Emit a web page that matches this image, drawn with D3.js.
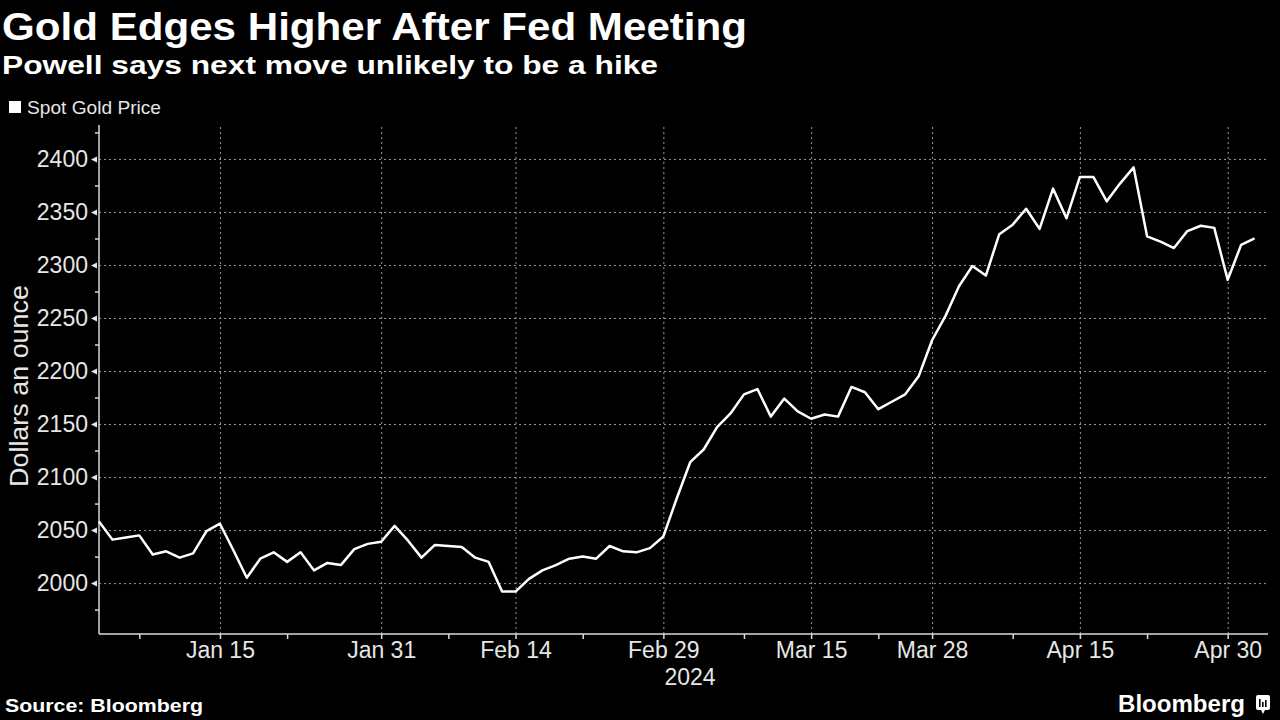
<!DOCTYPE html>
<html>
<head>
<meta charset="utf-8">
<script src="https://cdn.jsdelivr.net/npm/d3@7"></script>
<style>
	body { margin: 0; background: #000; }
	svg { display: block; }
	text { font-family: "Liberation Sans", Arial, sans-serif; }
</style>
</head>
<body>
<div id="container"></div>
<script>
// trading days shown on the chart (Good Friday is missing)
var dates = [
	'2024-01-02','2024-01-03','2024-01-04','2024-01-05','2024-01-08','2024-01-09','2024-01-10','2024-01-11','2024-01-12',
	'2024-01-15','2024-01-16','2024-01-17','2024-01-18','2024-01-19','2024-01-22','2024-01-23','2024-01-24','2024-01-25',
	'2024-01-26','2024-01-29','2024-01-30','2024-01-31',
	'2024-02-01','2024-02-02','2024-02-05','2024-02-06','2024-02-07','2024-02-08','2024-02-09','2024-02-12','2024-02-13',
	'2024-02-14','2024-02-15','2024-02-16','2024-02-19','2024-02-20','2024-02-21','2024-02-22','2024-02-23','2024-02-26',
	'2024-02-27','2024-02-28','2024-02-29',
	'2024-03-01','2024-03-04','2024-03-05','2024-03-06','2024-03-07','2024-03-08','2024-03-11','2024-03-12','2024-03-13',
	'2024-03-14','2024-03-15','2024-03-18','2024-03-19','2024-03-20','2024-03-21','2024-03-22','2024-03-25','2024-03-26',
	'2024-03-27','2024-03-28',
	'2024-04-01','2024-04-02','2024-04-03','2024-04-04','2024-04-05','2024-04-08','2024-04-09','2024-04-10','2024-04-11',
	'2024-04-12','2024-04-15','2024-04-16','2024-04-17','2024-04-18','2024-04-19','2024-04-22','2024-04-23','2024-04-24',
	'2024-04-25','2024-04-26','2024-04-29','2024-04-30',
	'2024-05-01','2024-05-02'
];

var prices = [
	2058, 2041, 2043, 2045, 2027, 2030, 2024, 2028, 2049,
	2056, 2031, 2005, 2023, 2029, 2020, 2029, 2012, 2019,
	2017, 2032, 2037, 2039,
	2054, 2040, 2024, 2036, 2035, 2034, 2024, 2020, 1992,
	1992, 2004, 2012, 2017, 2023, 2025, 2023, 2035, 2030,
	2029, 2033, 2044,
	2080, 2114, 2126, 2147, 2160, 2178, 2183, 2157, 2174,
	2162, 2155, 2159, 2157, 2185, 2180, 2164, 2171, 2178,
	2195, 2229,
	2252, 2280, 2299, 2290, 2329, 2338, 2353, 2334, 2372,
	2344, 2383, 2383, 2360, 2377, 2392, 2327, 2322, 2316,
	2332, 2337, 2335, 2286,
	2319, 2325
];

var majorTickDates = ['2024-01-15','2024-01-31','2024-02-14','2024-02-29','2024-03-15','2024-03-28','2024-04-15','2024-04-30'];
var majorTickLabels = ['Jan 15','Jan 31','Feb 14','Feb 29','Mar 15','Mar 28','Apr 15','Apr 30'];
var minorTickDates = ['2024-01-05','2024-01-22','2024-02-07','2024-02-21','2024-03-08','2024-03-22','2024-04-08','2024-04-22'];

var yMajorTicks = [2000, 2050, 2100, 2150, 2200, 2250, 2300, 2350, 2400];
var yMinorTicks = [1975, 2025, 2075, 2125, 2175, 2225, 2275, 2325, 2375, 2425];

var width = 1280,
	height = 720;

var margin = { top: 125, right: 12, bottom: 86, left: 99 };

var canvas, xScale, yScale, xAxis, yAxis, line;

canvas = d3.select('#container').append('svg')
			.attr('width', width)
			.attr('height', height)
			.style('background', '#000');

xScale = d3.scaleLinear()
			.domain([0, dates.length])
			.range([margin.left, width - margin.right]);

yScale = d3.scaleLinear()
			.domain([1952, 2432])
			.range([height - margin.bottom, margin.top]);

var idx = (d) => dates.indexOf(d);

// titles
canvas.append('text')
	.attr('x', 2).attr('y', 40)
	.attr('fill', '#fff')
	.style('font-size', '38px').style('font-weight', 'bold')
	.attr('textLength', 745).attr('lengthAdjust', 'spacingAndGlyphs')
	.text('Gold Edges Higher After Fed Meeting');

canvas.append('text')
	.attr('x', 2).attr('y', 74)
	.attr('fill', '#fff')
	.style('font-size', '25px').style('font-weight', 'bold')
	.attr('textLength', 656).attr('lengthAdjust', 'spacingAndGlyphs')
	.text('Powell says next move unlikely to be a hike');

// legend
canvas.append('rect')
	.attr('x', 9).attr('y', 101)
	.attr('width', 12).attr('height', 12)
	.attr('fill', '#fff');

canvas.append('text')
	.attr('x', 27).attr('y', 114)
	.attr('fill', '#e6e6e6')
	.style('font-size', '19px')
	.attr('textLength', 134).attr('lengthAdjust', 'spacingAndGlyphs')
	.text('Spot Gold Price');

// grid
var grid = canvas.append('g');

grid.append('g')
	.attr('transform', 'translate(' + margin.left + ',0)')
	.call(d3.axisLeft(yScale).tickValues(yMajorTicks)
		.tickSize(-(width - margin.right - margin.left)).tickFormat(''))
	.call(g => g.select('.domain').remove());

grid.append('g')
	.attr('transform', 'translate(0,' + (height - margin.bottom) + ')')
	.call(d3.axisBottom(xScale).tickValues(majorTickDates.map(idx))
		.tickSize(-(height - margin.bottom - margin.top)).tickFormat(''))
	.call(g => g.select('.domain').remove());

grid.selectAll('line')
	.attr('stroke', '#9a9a9a')
	.attr('stroke-width', 1)
	.attr('stroke-dasharray', '2,3');

// y axis
yAxis = canvas.append('g')
			.attr('transform', 'translate(' + margin.left + ',0)')
			.call(d3.axisLeft(yScale).tickValues(yMajorTicks)
				.tickSize(0).tickPadding(11).tickFormat(d3.format('d')));

yAxis.select('.domain')
	.attr('stroke', '#d8d8d8')
	.attr('stroke-width', 1.5)
	.attr('d', 'M0,' + margin.top + 'V' + (height - margin.bottom));

yAxis.selectAll('.tick text')
	.attr('fill', '#e6e6e6')
	.style('font-size', '23px');

yAxis.selectAll('.tick')
	.append('path')
	.attr('d', 'M-8,0L-2,-3L-2,3Z')
	.attr('fill', '#e6e6e6');

canvas.append('g')
	.attr('transform', 'translate(' + margin.left + ',0)')
	.call(d3.axisLeft(yScale).tickValues(yMinorTicks).tickSize(4).tickFormat(''))
	.call(g => g.select('.domain').remove())
	.selectAll('line')
		.attr('stroke', '#d8d8d8')
		.attr('stroke-width', 1.5);

canvas.append('text')
	.attr('transform', 'translate(28,386) rotate(-90)')
	.attr('text-anchor', 'middle')
	.attr('fill', '#e6e6e6')
	.style('font-size', '25px')
	.attr('textLength', 202).attr('lengthAdjust', 'spacingAndGlyphs')
	.text('Dollars an ounce');

// x axis
xAxis = canvas.append('g')
			.attr('transform', 'translate(0,' + (height - margin.bottom) + ')')
			.call(d3.axisBottom(xScale)
				.tickValues(majorTickDates.map(idx))
				.tickSize(5)
				.tickFormat((d, i) => majorTickLabels[i]));

xAxis.select('.domain')
	.attr('stroke', '#d8d8d8')
	.attr('stroke-width', 1.5)
	.attr('d', 'M' + margin.left + ',0H' + (width - margin.right));

xAxis.selectAll('.tick line')
	.attr('stroke', '#d8d8d8')
	.attr('stroke-width', 1.5);

xAxis.selectAll('.tick text')
	.attr('fill', '#e6e6e6')
	.attr('y', 24).attr('dy', 0)
	.style('font-size', '23px');

canvas.append('g')
	.attr('transform', 'translate(0,' + (height - margin.bottom) + ')')
	.call(d3.axisBottom(xScale).tickValues(minorTickDates.map(idx)).tickSize(5).tickFormat(''))
	.call(g => g.select('.domain').remove())
	.selectAll('line')
		.attr('stroke', '#d8d8d8')
		.attr('stroke-width', 1.5);

canvas.append('text')
	.attr('x', 690).attr('y', 685)
	.attr('text-anchor', 'middle')
	.attr('fill', '#e6e6e6')
	.style('font-size', '23px')
	.text('2024');

// the price line
line = d3.line()
		.x((d, i) => xScale(i))
		.y((d) => yScale(d));

canvas.append('path')
	.datum(prices)
	.attr('d', line)
	.attr('fill', 'none')
	.attr('stroke', '#fff')
	.attr('stroke-width', 2.5)
	.attr('stroke-linejoin', 'round');

// footer
canvas.append('text')
	.attr('x', 5).attr('y', 712)
	.attr('fill', '#fff')
	.style('font-size', '19px').style('font-weight', 'bold')
	.attr('textLength', 198).attr('lengthAdjust', 'spacingAndGlyphs')
	.text('Source: Bloomberg');

canvas.append('text')
	.attr('x', 1118).attr('y', 712)
	.attr('fill', '#fff')
	.style('font-size', '24px').style('font-weight', 'bold')
	.attr('textLength', 127).attr('lengthAdjust', 'spacingAndGlyphs')
	.text('Bloomberg');

var logo = canvas.append('g').attr('transform', 'translate(1256,695)');
logo.append('rect')
	.attr('width', 14).attr('height', 15).attr('rx', 2)
	.attr('fill', '#fff');
logo.append('path')
	.attr('d', 'M5,15L7,19L9,15Z')
	.attr('fill', '#fff');
logo.selectAll('.bar')
	.data([[3, 8], [6, 5], [9, 7]])
	.enter()
		.append('rect')
		.attr('x', (d) => d[0])
		.attr('y', (d) => 12 - d[1])
		.attr('width', 1.6)
		.attr('height', (d) => d[1])
		.attr('fill', '#000');
</script>
</body>
</html>
